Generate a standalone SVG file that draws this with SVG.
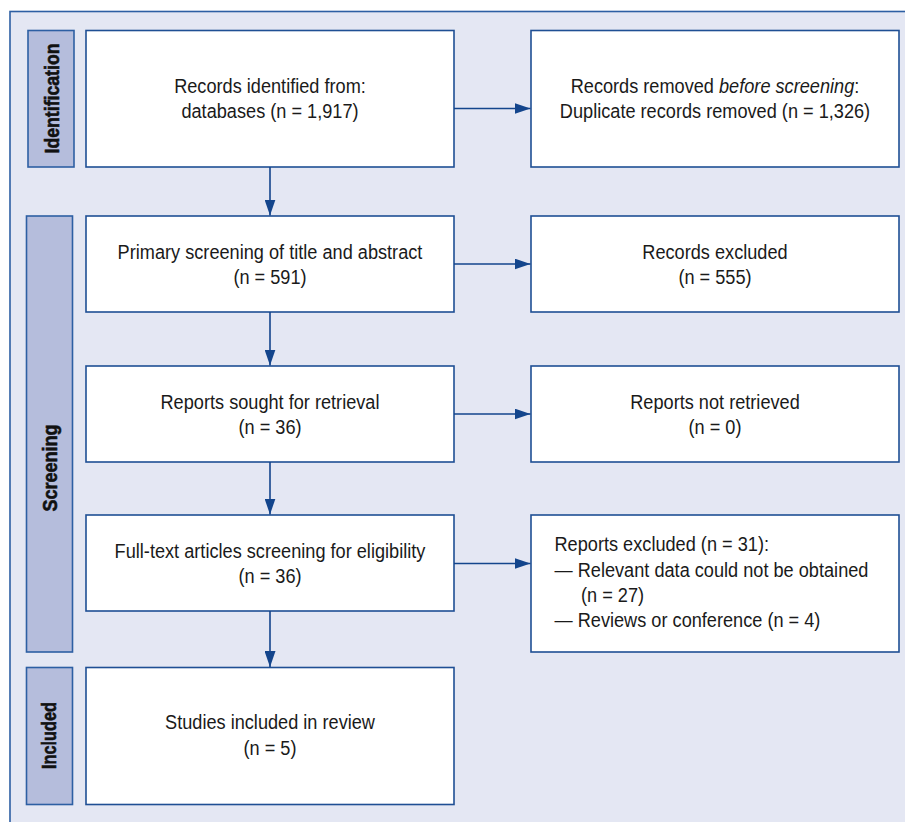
<svg xmlns="http://www.w3.org/2000/svg" width="905" height="822" viewBox="0 0 905 822">
<style>
.t{font-family:"Liberation Sans",Arial,sans-serif;font-size:21px;fill:#1a1a1a}
.c{text-anchor:middle}
.lab{font-family:"Liberation Sans",Arial,sans-serif;font-size:21px;font-weight:bold;fill:#111;stroke:#111;stroke-width:0.6;text-anchor:middle}
.box{fill:#ffffff;stroke:#1f4f94;stroke-width:1.6}
.side{fill:#b5bddc;stroke:#2d5fa3;stroke-width:1.6}
.ln{stroke:#13458c;stroke-width:1.6;fill:none}
</style>
<defs>
<marker id="ah" viewBox="0 0 16 11" refX="16" refY="5.5" markerWidth="16" markerHeight="11" markerUnits="userSpaceOnUse" orient="auto">
<path d="M0,0 L16,5.5 L0,11 Z" fill="#13458c"/>
</marker>
</defs>
<rect x="10" y="11.5" width="905" height="820" fill="#e4e7f3" stroke="#2d5fa3" stroke-width="1.6"/>
<g id="lab-identification">
<rect class="side" x="28" y="30.5" width="46" height="136.5"/>
<text class="lab" transform="translate(59,98.5) rotate(-90)" textLength="110" lengthAdjust="spacingAndGlyphs">Identification</text>
</g>
<g id="lab-screening">
<rect class="side" x="26.5" y="216" width="46" height="436"/>
<text class="lab" transform="translate(57,468) rotate(-90)" textLength="87" lengthAdjust="spacingAndGlyphs">Screening</text>
</g>
<g id="lab-included">
<rect class="side" x="26.5" y="667.5" width="46" height="137"/>
<text class="lab" transform="translate(55.5,735.5) rotate(-90)" textLength="67" lengthAdjust="spacingAndGlyphs">Included</text>
</g>
<g id="n1">
<rect class="box" x="86" y="30.5" width="368" height="136.5"/>
<text class="t c" transform="translate(270,92.5) scale(0.865,1)">Records identified from:</text>
<text class="t c" transform="translate(270,118) scale(0.865,1)">databases (n = 1,917)</text>
</g>
<g id="n2">
<rect class="box" x="531" y="30.5" width="368" height="136.5"/>
<text class="t c" transform="translate(715,92.5) scale(0.865,1)">Records removed <tspan font-style="italic">before screening</tspan>:</text>
<text class="t c" transform="translate(715,118) scale(0.865,1)">Duplicate records removed (n = 1,326)</text>
</g>
<g id="n3">
<rect class="box" x="86" y="216" width="368" height="96"/>
<text class="t c" transform="translate(270,258.5) scale(0.865,1)">Primary screening of title and abstract</text>
<text class="t c" transform="translate(270,284) scale(0.865,1)">(n = 591)</text>
</g>
<g id="n4">
<rect class="box" x="531" y="216" width="368" height="96"/>
<text class="t c" transform="translate(715,258.5) scale(0.865,1)">Records excluded</text>
<text class="t c" transform="translate(715,284) scale(0.865,1)">(n = 555)</text>
</g>
<g id="n5">
<rect class="box" x="86" y="366" width="368" height="96"/>
<text class="t c" transform="translate(270,408.5) scale(0.865,1)">Reports sought for retrieval</text>
<text class="t c" transform="translate(270,434) scale(0.865,1)">(n = 36)</text>
</g>
<g id="n6">
<rect class="box" x="531" y="366" width="368" height="96"/>
<text class="t c" transform="translate(715,408.5) scale(0.865,1)">Reports not retrieved</text>
<text class="t c" transform="translate(715,434) scale(0.865,1)">(n = 0)</text>
</g>
<g id="n7">
<rect class="box" x="86" y="515" width="368" height="96"/>
<text class="t c" transform="translate(270,557.5) scale(0.865,1)">Full-text articles screening for eligibility</text>
<text class="t c" transform="translate(270,583) scale(0.865,1)">(n = 36)</text>
</g>
<g id="n8">
<rect class="box" x="531" y="515" width="368" height="137"/>
<text class="t" transform="translate(554.5,550.5) scale(0.865,1)">Reports excluded (n = 31):</text>
<text class="t" transform="translate(554.5,576.5) scale(0.865,1)">— Relevant data could not be obtained</text>
<text class="t" transform="translate(581,602) scale(0.865,1)">(n = 27)</text>
<text class="t" transform="translate(554.5,627) scale(0.865,1)">— Reviews or conference (n = 4)</text>
</g>
<g id="n9">
<rect class="box" x="86" y="667.5" width="368" height="137"/>
<text class="t c" transform="translate(270,729) scale(0.865,1)">Studies included in review</text>
<text class="t c" transform="translate(270,754.5) scale(0.865,1)">(n = 5)</text>
</g>
<g id="connectors">
<line class="ln" x1="270" y1="167" x2="270" y2="215.5" marker-end="url(#ah)"/>
<line class="ln" x1="270" y1="312" x2="270" y2="365.5" marker-end="url(#ah)"/>
<line class="ln" x1="270" y1="462" x2="270" y2="514.5" marker-end="url(#ah)"/>
<line class="ln" x1="270" y1="611" x2="270" y2="667" marker-end="url(#ah)"/>
<line class="ln" x1="454" y1="108.5" x2="530.5" y2="108.5" marker-end="url(#ah)"/>
<line class="ln" x1="454" y1="264" x2="530.5" y2="264" marker-end="url(#ah)"/>
<line class="ln" x1="454" y1="414" x2="530.5" y2="414" marker-end="url(#ah)"/>
<line class="ln" x1="454" y1="563.5" x2="530.5" y2="563.5" marker-end="url(#ah)"/>
</g>
</svg>
